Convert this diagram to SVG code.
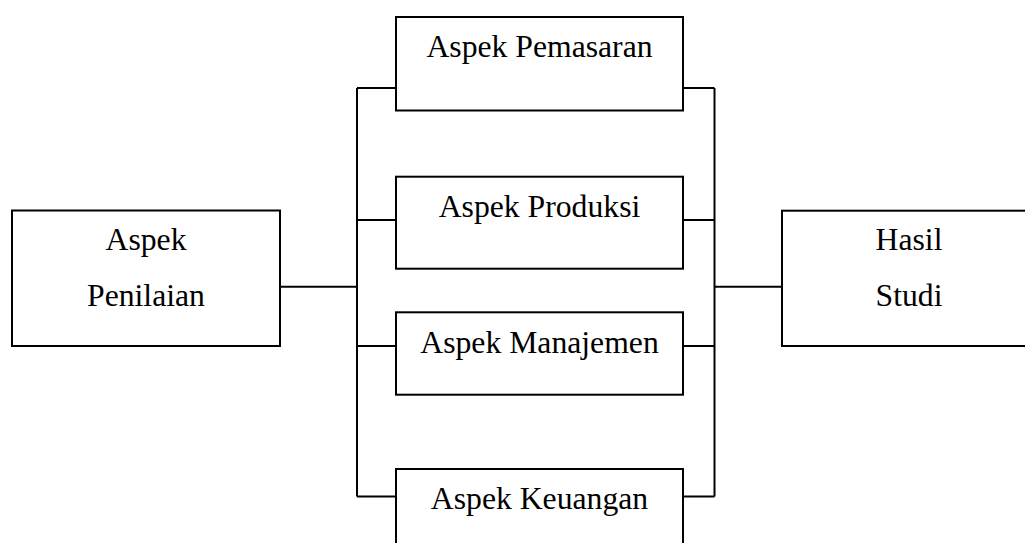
<svg xmlns="http://www.w3.org/2000/svg" width="1025" height="543" viewBox="0 0 1025 543">
<style>
.box{fill:#fff;stroke:#000;stroke-width:2}
.ln{fill:none;stroke:#000;stroke-width:2}
.t{font-family:"Liberation Serif","Times New Roman",serif;font-size:31.7px;fill:#000;text-anchor:middle}
</style>
<rect width="1025" height="543" fill="#fff"/>
<g id="connectors">
<path class="ln" d="M280,286.7 H357 M357,88 V496.5 M357,88 H396 M357,220 H396 M357,346 H396 M357,496.5 H396"/>
<path class="ln" d="M683,88 H714.5 M683,220 H714.5 M683,346 H714.5 M683,496.5 H714.5 M714.5,88 V496.5 M714.5,286.7 H782"/>
</g>
<g id="penilaian">
<rect class="box" x="12" y="210.5" width="268" height="135.5"/>
<text class="t" x="146" y="250">Aspek</text>
<text class="t" x="146" y="306">Penilaian</text>
</g>
<g id="pemasaran">
<rect class="box" x="396" y="17" width="287" height="93.5"/>
<text class="t" x="539.5" y="57">Aspek Pemasaran</text>
</g>
<g id="produksi">
<rect class="box" x="396" y="176.7" width="287" height="92"/>
<text class="t" x="539.5" y="216.7">Aspek Produksi</text>
</g>
<g id="manajemen">
<rect class="box" x="396" y="312.3" width="287" height="82.4"/>
<text class="t" x="539.5" y="352.7">Aspek Manajemen</text>
</g>
<g id="keuangan">
<rect class="box" x="396" y="469" width="287" height="90"/>
<text class="t" x="539.5" y="508.5">Aspek Keuangan</text>
</g>
<g id="hasil">
<rect class="box" x="782" y="210.7" width="260" height="135.3"/>
<text class="t" x="909" y="250">Hasil</text>
<text class="t" x="909" y="306">Studi</text>
</g>
</svg>
